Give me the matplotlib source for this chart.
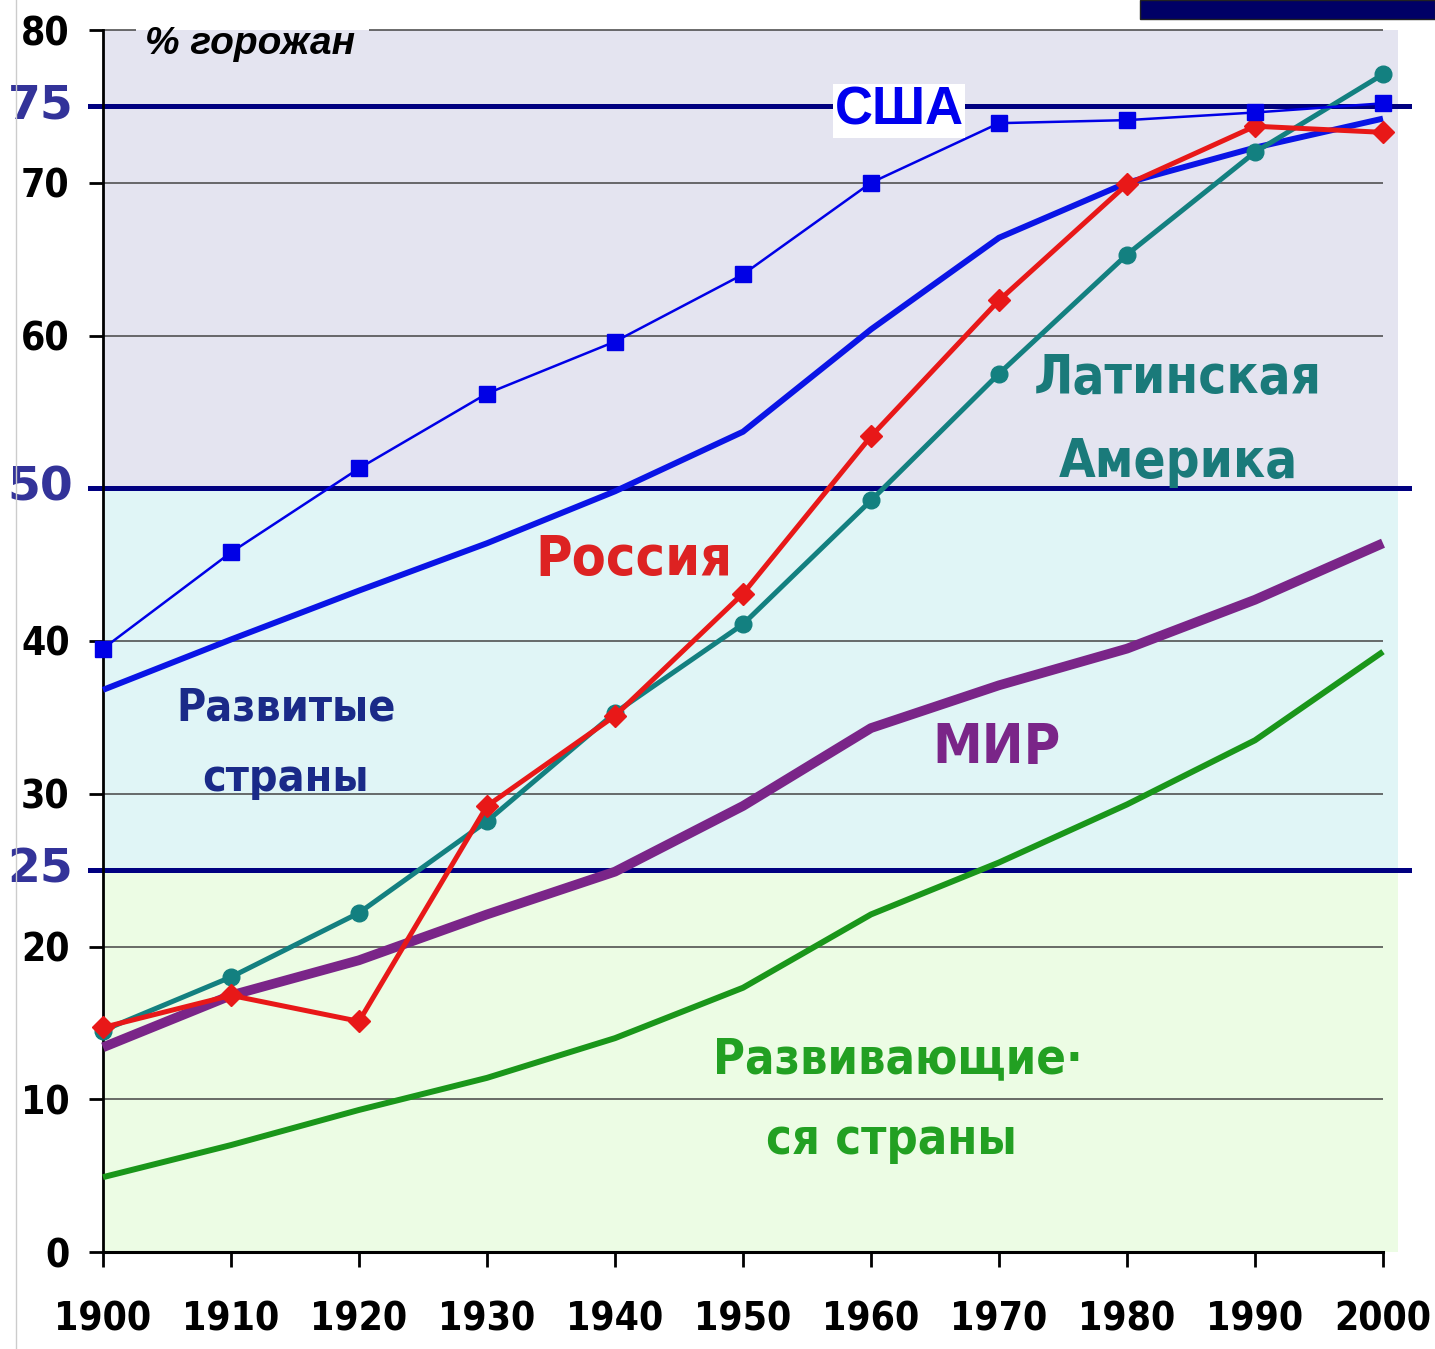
import matplotlib
matplotlib.use("Agg")
import matplotlib.pyplot as plt
from matplotlib.patches import Rectangle
from matplotlib.lines import Line2D

# --- data (percentage of urban population) ---
years = [1900, 1910, 1920, 1930, 1940, 1950, 1960, 1970, 1980, 1990, 2000]
usa = [39.5, 45.8, 51.3, 56.2, 59.6, 64.0, 70.0, 73.9, 74.1, 74.6, 75.2]
developed = [36.8, 40.1, 43.3, 46.4, 49.8, 53.7, 60.4, 66.4, 70.0, 72.3, 74.2]
russia = [14.7, 16.8, 15.1, 29.2, 35.1, 43.1, 53.4, 62.3, 69.9, 73.7, 73.3]
latin_america = [14.5, 18.0, 22.2, 28.2, 35.3, 41.1, 49.2, 57.5, 65.3, 72.0, 77.1]
world = [13.4, 16.8, 19.1, 22.1, 24.9, 29.2, 34.3, 37.1, 39.5, 42.7, 46.4]
developing = [4.9, 7.0, 9.3, 11.4, 14.0, 17.3, 22.1, 25.5, 29.3, 33.5, 39.3]

thresholds = [25, 50, 75]
bands = [(0, 25, "#ecfce4"), (25, 50, "#e0f5f6"), (50, 80, "#e4e4f0")]
y_ticks = [0, 10, 20, 30, 40, 50, 60, 70, 80]
y_labels = ["0", "10", "20", "30", "40", "", "60", "70", "80"]

COND = dict(family="DejaVu Sans", stretch="condensed", fontweight="bold")

fig = plt.figure(figsize=(14.35, 13.49), dpi=100)
ax = fig.add_axes([103 / 1435, 97 / 1349, 1280 / 1435, 1222 / 1349])

# coloured background bands (run a bit past the right edge like the original)
for lo, hi, col in bands:
    ax.axhspan(lo, hi, xmin=0, xmax=1.012, color=col, zorder=0, clip_on=False, lw=0)

# grid lines every 10%, the 80 line broken by the title
for v in y_ticks[1:-1]:
    if v in thresholds:
        continue
    ax.axhline(v, color="#444444", lw=1.1, zorder=1)
ax.hlines(80, 1900, 1902.6, color="#444444", lw=1.1, zorder=1, clip_on=False)
ax.hlines(80, 1920.8, 2000, color="#444444", lw=1.1, zorder=1, clip_on=False)

# thick threshold lines
for t in thresholds:
    ax.axhline(t, xmin=-0.01, xmax=1.02, color="#000080", lw=3.6, zorder=2, clip_on=False)
    ax.text(-0.049, t, str(t), transform=ax.get_yaxis_transform(), ha="center", va="center",
            fontsize=34, fontweight="bold", color="#333399", family="DejaVu Sans")

# series
ax.plot(years, world, color="#7a2588", lw=7, zorder=3, clip_on=False, solid_capstyle="butt")
ax.plot(years, developing, color="#1a961a", lw=4.3, zorder=3, clip_on=False, solid_capstyle="butt")
ax.plot(years, developed, color="#0a14e6", lw=4.3, zorder=4, clip_on=False, solid_capstyle="butt")
ax.plot(years, latin_america, color="#138080", lw=3.6, marker="o", ms=12, zorder=5, clip_on=False)
ax.plot(years, russia, color="#e81818", lw=3.6, marker="D", ms=11, zorder=6, clip_on=False)
ax.plot(years, usa, color="#0000e6", lw=1.8, marker="s", ms=12, zorder=7, clip_on=False)

ax.set_xlim(1900, 2000)
ax.set_ylim(0, 80)
ax.set_xticks(years)
ax.set_yticks(y_ticks, y_labels)
ax.tick_params(axis="x", direction="out", length=11, width=2, pad=24, labelsize=28)
ax.tick_params(axis="y", direction="out", length=10, width=2, pad=14, labelsize=28)
for lab in ax.get_xticklabels() + ax.get_yticklabels():
    lab.set_family("DejaVu Sans")
    lab.set_stretch("condensed")
    lab.set_fontweight("bold")

for side in ["top", "right"]:
    ax.spines[side].set_visible(False)
ax.spines["left"].set_linewidth(2)
ax.spines["bottom"].set_linewidth(2.2)

# labels
ax.text(1903.3, 79.1, "% горожан", ha="left", va="center", fontsize=28, fontweight="bold",
        style="italic", family=["Liberation Sans", "DejaVu Sans"], color="black", zorder=8, clip_on=False)
ax.text(1962.2, 74.7, "США", ha="center", va="center", fontsize=38, fontweight="bold",
        color="#0000ee", family=["Liberation Sans", "DejaVu Sans"], zorder=9,
        bbox=dict(facecolor="white", edgecolor="none", pad=1))
ax.text(1984.0, 57.2, "Латинская", ha="center", va="center", fontsize=38, color="#1a7a7a", zorder=8, **COND)
ax.text(1984.0, 51.7, "Америка", ha="center", va="center", fontsize=38, color="#1a7a7a", zorder=8, **COND)
ax.text(1941.5, 45.3, "Россия", ha="center", va="center", fontsize=40, color="#dd2222", zorder=8, **COND)
ax.text(1914.3, 35.6, "Развитые", ha="center", va="center", fontsize=32, color="#1a2a88", zorder=8, **COND)
ax.text(1914.3, 31.0, "страны", ha="center", va="center", fontsize=32, color="#1a2a88", zorder=8, **COND)
ax.text(1969.8, 33.0, "МИР", ha="center", va="center", fontsize=40, color="#7a2588", zorder=8, **COND)
ax.text(1962.1, 12.6, "Развивающие·", ha="center", va="center", fontsize=35, color="#22a022", zorder=8, **COND)
ax.text(1961.6, 7.3, "ся страны", ha="center", va="center", fontsize=35, color="#22a022", zorder=8, **COND)

# slide decorations
fig.add_artist(Line2D([16 / 1435, 16 / 1435], [0, 1], color="#cccccc", lw=1))
fig.add_artist(Rectangle((1140 / 1435, 1 - 19 / 1349), 295 / 1435, 19 / 1349,
                         facecolor="#000066", edgecolor="#222222", lw=1))

fig.savefig("out.png", dpi=100)
